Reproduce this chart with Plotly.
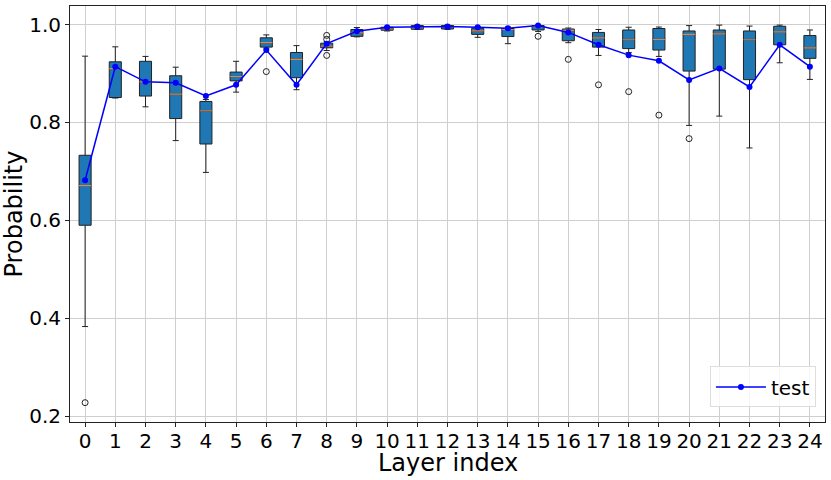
import plotly.graph_objects as go

layers = list(range(25))
q1 = [0.590, 0.851, 0.854, 0.808, 0.756, 0.885, 0.954, 0.8915, 0.9526, 0.976, 0.9885, 0.9905, 0.991,
      0.980, 0.9756, 0.989, 0.967, 0.954, 0.951, 0.948, 0.905, 0.909, 0.8875, 0.9587, 0.931]
median = [0.671, 0.910, 0.883, 0.858, 0.824, 0.894, 0.963, 0.929, 0.956, 0.983, 0.991, 0.994, 0.995,
          0.987, 0.990, 0.996, 0.988, 0.973, 0.969, 0.9695, 0.980, 0.981, 0.969, 0.985, 0.9525]
q3 = [0.733, 0.924, 0.925, 0.8955, 0.843, 0.903, 0.973, 0.943, 0.962, 0.990, 0.9946, 0.998, 0.998,
      0.9925, 0.992, 0.998, 0.991, 0.984, 0.989, 0.992, 0.987, 0.989, 0.987, 0.9966, 0.9776]
whisker_low = [0.383, 0.850, 0.832, 0.763, 0.698, 0.862, 0.952, 0.867, 0.947, 0.975, 0.987, 0.990, 0.990,
               0.974, 0.961, 0.986, 0.963, 0.937, 0.943, 0.935, 0.794, 0.813, 0.748, 0.922, 0.888]
whisker_high = [0.9355, 0.9546, 0.935, 0.913, 0.847, 0.925, 0.979, 0.957, 0.965, 0.994, 0.996, 0.999, 0.999,
                0.996, 0.995, 0.999, 0.993, 0.990, 0.9946, 0.995, 0.998, 0.999, 0.997, 0.999, 0.989]
mean_test = [0.682, 0.914, 0.883, 0.881, 0.854, 0.877, 0.948, 0.877, 0.961, 0.9864, 0.9946, 0.996, 0.996,
             0.9946, 0.9925, 0.998, 0.984, 0.9587, 0.9376, 0.926, 0.887, 0.9105, 0.8725, 0.9587, 0.914]
outlier_x = [0, 6, 8, 8, 8, 15, 16, 17, 18, 19, 20]
outlier_y = [0.2275, 0.904, 0.978, 0.970, 0.937, 0.976, 0.929, 0.877, 0.863, 0.815, 0.767]
tick_labels = [str(i) for i in layers]

fig = go.Figure()

fig.add_trace(go.Box(
    x=layers, q1=q1, median=median, q3=q3,
    lowerfence=whisker_low, upperfence=whisker_high,
    width=0.4, whiskerwidth=0.5,
    fillcolor="#1f77b4", line=dict(color="#222222", width=1),
    boxpoints=False, showlegend=False, hoverinfo="skip",
))
fig.add_trace(go.Box(
    x=layers, q1=median, median=median, q3=median,
    lowerfence=median, upperfence=median,
    width=0.4, whiskerwidth=0,
    fillcolor="rgba(0,0,0,0)", line=dict(color="#e8833a", width=1.2),
    boxpoints=False, showlegend=False, hoverinfo="skip",
))
fig.add_trace(go.Scatter(
    x=outlier_x, y=outlier_y, mode="markers",
    marker=dict(symbol="circle-open", size=6, color="#222222", line=dict(width=1)),
    showlegend=False, hoverinfo="skip",
))
fig.add_trace(go.Scatter(
    x=layers, y=mean_test, mode="lines+markers", name="test",
    line=dict(color="#0000ff", width=1.5),
    marker=dict(color="#0000ff", size=6),
))

axis_common = dict(
    showline=True, linecolor="#222222", linewidth=1, mirror=True,
    ticks="outside", ticklen=4, tickcolor="#222222",
    showgrid=True, gridcolor="#cfcfcf", gridwidth=1, zeroline=False,
    tickfont=dict(family="DejaVu Sans", size=20, color="black"),
    automargin=False,
)

fig.update_layout(
    width=831, height=480,
    margin=dict(l=70, r=6, t=6, b=58),
    paper_bgcolor="white", plot_bgcolor="white",
    boxmode="overlay",
    font=dict(family="DejaVu Sans", color="black"),
    xaxis=dict(range=[-0.5, 24.5], tickmode="array", tickvals=layers, ticktext=tick_labels,
               ticklabelstandoff=-3, **axis_common),
    yaxis=dict(range=[0.188, 1.038], tickmode="array", tickvals=[0.2, 0.4, 0.6, 0.8, 1.0],
               ticktext=["0.2", "0.4", "0.6", "0.8", "1.0"],
               title=dict(text="Probability", font=dict(size=24), standoff=4), **axis_common),
    legend=dict(x=0.988, y=0.035, xanchor="right", yanchor="bottom",
                bgcolor="rgba(255,255,255,0.8)", bordercolor="#dddddd", borderwidth=1,
                font=dict(size=20), itemwidth=50),
    showlegend=True,
    annotations=[dict(text="Layer index", xref="paper", yref="paper", x=0.5, y=0,
                      xanchor="center", yanchor="top", yshift=-25, showarrow=False,
                      font=dict(size=24, family="DejaVu Sans", color="black"))],
)

fig.write_html("out.html", config={"displayModeBar": False},
               post_script="document.body.style.margin='0';")
